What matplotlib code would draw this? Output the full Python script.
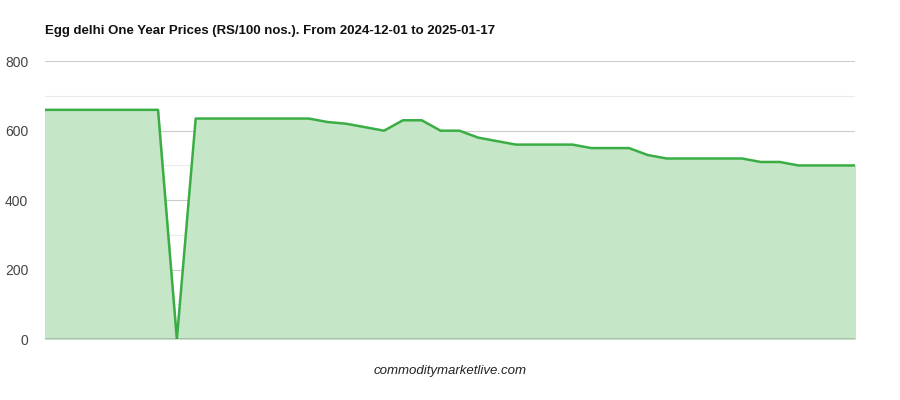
import matplotlib.pyplot as plt

plt.rcParams['font.family'] = ['Liberation Sans', 'DejaVu Sans']

# egg prices, Rs/100 nos., one point per observation
prices = [660, 660, 660, 660, 660, 660, 660, 0, 635, 635,
          635, 635, 635, 635, 635, 625, 620, 610, 600, 630,
          630, 600, 600, 580, 570, 560, 560, 560, 560, 550,
          550, 550, 530, 520, 520, 520, 520, 520, 510, 510,
          500, 500, 500, 500]
yticks = [0, 200, 400, 600, 800]
x = list(range(len(prices)))

fig = plt.figure(figsize=(9, 4), dpi=100)
ax = fig.add_axes([0.05, 0.152, 0.9, 0.695])

for v in range(100, 800, 200):
    ax.axhline(v, color='#ebebeb', lw=0.8, zorder=0)
for v in yticks[1:]:
    ax.axhline(v, color='#cccccc', lw=0.8, zorder=0)

ax.fill_between(x, prices, 0, color='#c5e6c7', zorder=1)
ax.plot(x, prices, color='#3aae45', lw=1.8, zorder=2)
ax.axhline(0, color='#333333', lw=1, zorder=3)

ax.set_xlim(0, len(prices) - 1)
ax.set_ylim(0, 800)
ax.set_yticks(yticks)
ax.set_xticks([])
ax.tick_params(axis='y', length=0, labelsize=10, colors='#444444', pad=12)
for s in ax.spines.values():
    s.set_visible(False)

fig.text(0.05, 0.915, 'Egg delhi One Year Prices (RS/100 nos.). From 2024-12-01 to 2025-01-17',
         fontsize=9.5, fontweight='bold', color='#111111')
fig.text(0.5, 0.065, 'commoditymarketlive.com', ha='center', fontsize=9.5,
         style='italic', color='#222222')

fig.savefig('out.png', dpi=100)
